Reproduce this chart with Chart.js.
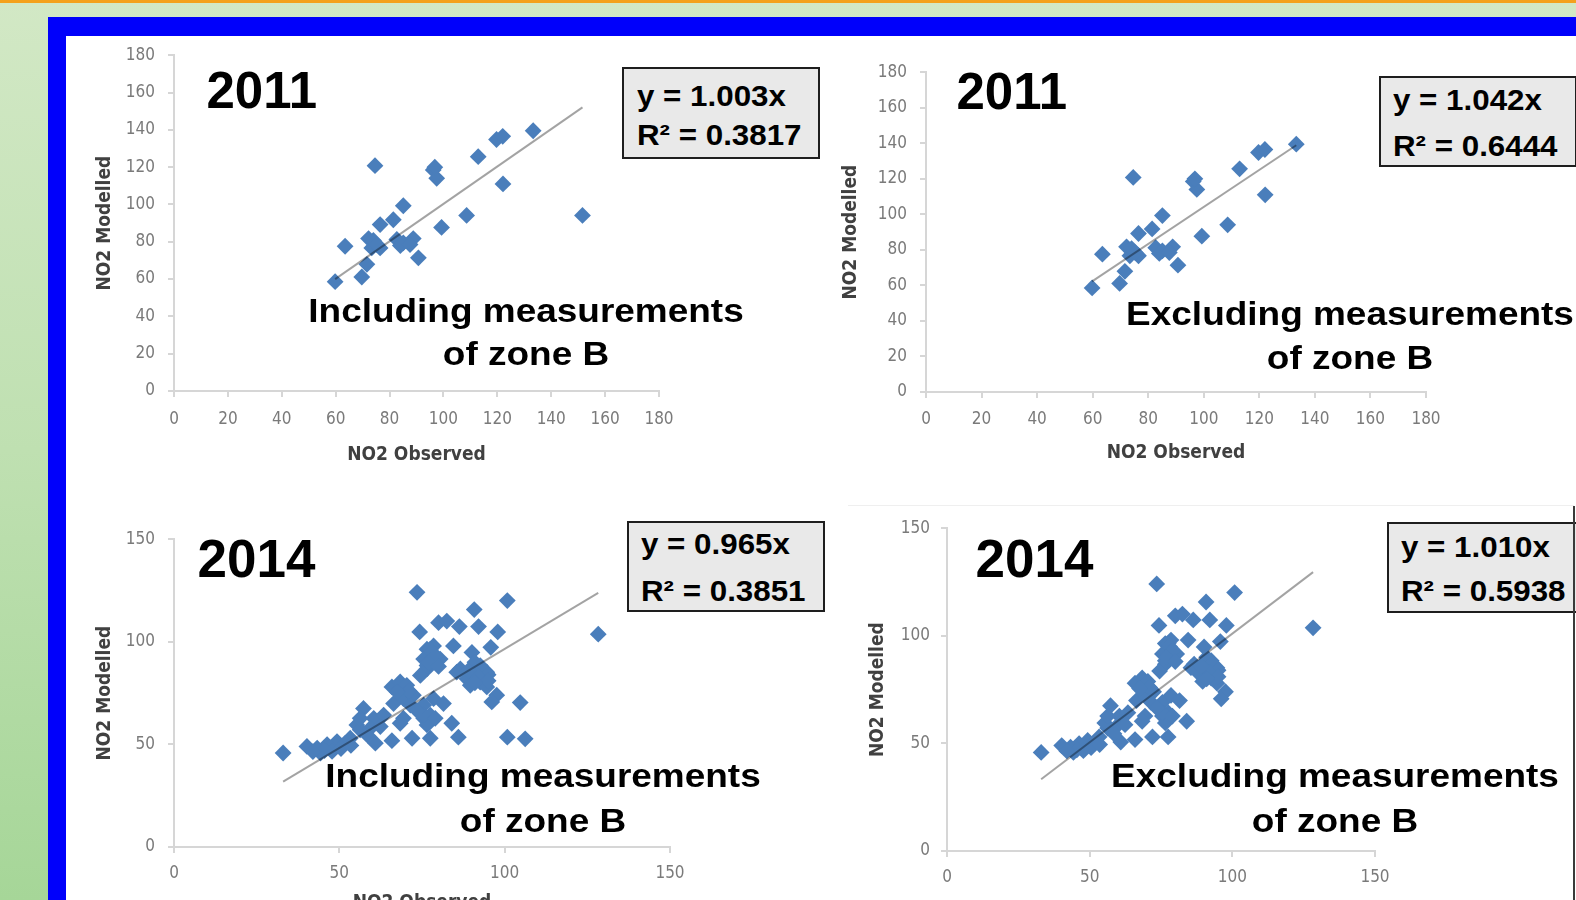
<!DOCTYPE html>
<html><head><meta charset="utf-8">
<script src="https://cdn.jsdelivr.net/npm/chart.js@4.4.1/dist/chart.umd.min.js"></script>
<style>
html,body{margin:0;padding:0;}
body{width:1576px;height:900px;overflow:hidden;position:relative;
  background:linear-gradient(to bottom,#d2e8c5 0%,#bfe0b1 50%,#a6d698 100%);
  font-family:'Liberation Sans',Arial,sans-serif;}
.abs{position:absolute;}
#orange{left:0;top:0;width:1576px;height:3px;background:#f4a11c;}
#blue{left:48px;top:17px;width:1528px;height:883px;background:#0000fb;}
#white{left:66px;top:36px;width:1510px;height:864px;background:#ffffff;}
canvas{position:absolute;}
.t{position:absolute;white-space:nowrap;font-weight:bold;color:#000;line-height:1;}
.box{position:absolute;background:#e9e9e9;border:2px solid #1e1e1e;box-sizing:border-box;}
</style></head><body>
<div id="orange" class="abs"></div>
<div id="blue" class="abs"></div>
<div id="white" class="abs"></div>
<div class="abs" style="left:848px;top:505px;width:726px;height:1px;background:#efefef"></div>
<script>
// ---------------- DATA ----------------
const ticks2011 = [0, 20, 40, 60, 80, 100, 120, 140, 160, 180];
const ticks2014 = [0, 50, 100, 150];

// 2011 sites outside zone B
const obs2011 = [59.8, 63.5, 74.6, 69.7, 71.6, 72.2, 73.4, 76.5, 76.5, 81.4, 85.1, 82.7, 85.1, 88.8, 90.7,
                 96.2, 97.5, 96.8, 99.3, 108.6, 112.9, 122.1, 119.7, 122.0, 133.3, 74.0, 84.0, 87.6, 75.3];
const mod2011 = [58.6, 77.6, 120.8, 61.1, 67.9, 81.7, 76.7, 76.7, 89.2, 91.8, 99.3, 81.2, 79.4, 81.7, 71.4,
                 118.5, 114.0, 120.0, 87.7, 94.1, 125.6, 111.0, 134.8, 136.5, 139.5, 80.7, 78.0, 78.5, 78.5];
// 2011 zone B sites
const obs2011B = [151.6];
const mod2011B = [94.1];

// 2014 sites outside zone B
const obs2014 = [33.0, 73.5, 74.3, 80.0, 76.5, 78.5, 75.5, 76.5, 74.5, 65.9, 68.4, 70.4, 57.3, 60.4, 63.4,
                 66.4, 69.4, 72.4, 71.5, 75.5, 77.5, 75.5, 69.4, 55.3, 56.3, 59.4, 53.3, 49.3, 46.3, 43.3,
                 40.2, 44.3, 47.8, 51.8, 60.9, 65.9, 72.0, 77.5, 76.5, 56.3, 62.4, 68.4,
                 100.8, 90.8, 82.5, 86.3, 92.1, 97.9, 128.3, 84.5, 95.8, 77.5, 80.5, 90.1, 76.5, 86.6,
                 92.6, 94.6, 88.6, 92.6, 90.6, 97.6, 96.1, 78.5, 81.5, 75.5, 79.0, 84.0,
                 85.5, 93.6, 89.6, 94.6, 45.5, 50.5, 53.5, 42.0, 58.5,
                 78.0, 79.0, 77.0, 80.0, 91.0, 93.0, 95.0, 92.0, 95.0, 89.0, 91.0, 73.5, 71.0, 67.5];
const mod2014 = [45.8, 124.1, 104.8, 109.3, 96.4, 98.0, 91.6, 86.8, 83.6, 78.0, 80.4, 78.8, 67.5, 62.7, 64.3,
                 69.9, 72.3, 74.0, 69.1, 69.1, 64.3, 62.7, 62.7, 59.5, 57.1, 57.9, 53.0, 51.4, 49.9, 48.2,
                 49.0, 45.8, 46.6, 50.6, 50.6, 51.8, 53.0, 53.0, 59.5, 62.7, 58.7, 60.3,
                 120.1, 115.7, 110.1, 107.4, 107.4, 104.8, 103.7, 98.0, 97.3, 96.4, 91.6, 94.8, 88.4, 86.8,
                 88.4, 85.2, 82.0, 80.4, 85.2, 74.0, 70.7, 72.3, 69.9, 64.3, 62.7, 60.3,
                 85.2, 83.6, 78.8, 78.0, 47.0, 48.0, 49.5, 46.5, 54.5,
                 95.0, 93.0, 90.0, 88.0, 90.0, 87.0, 84.0, 83.0, 81.0, 86.0, 80.0, 66.5, 76.0, 75.5];
// 2014 zone B sites
const obs2014B = [86.0, 100.8, 106.2, 104.7];
const mod2014B = [53.5, 53.5, 52.7, 70.4];

// regression results (y = a·x through origin)
const slopes = [1.003, 1.042, 0.965, 1.010];
const r2s    = [0.3817, 0.6444, 0.3851, 0.5938];
const years  = ['2011', '2011', '2014', '2014'];
const notes  = ['Including measurements', 'Excluding measurements', 'Including measurements', 'Excluding measurements'];
const note2  = 'of zone B';
const xTitle = 'NO2 Observed';
const yTitle = 'NO2 Modelled';

// ---------------- LAYOUT / STYLE ----------------
const W = 110, PT = 20, PR = 30, H = 90;
const layout = [
  {L:174, T:52, R:659, B:391, yTP:29.6, xTP:14.6, yPad:13, xPad:12.4, max:180, ticks:ticks2011,
   year:{x:206.5, b:108.3, s:51}, box:{x:622, y:67, w:198, h:92, tx:637, b1:106.7, b2:146},
   n:{x:525.5, b1:322.3, b2:365}},
  {L:926, T:69, R:1426, B:392, yTP:23.6, xTP:17.3, yPad:13, xPad:11.1, max:180, ticks:ticks2011,
   year:{x:956.5, b:109.5, s:51}, box:{x:1379, y:76, w:198, h:91, tx:1393, b1:111, b2:156.7},
   n:{x:1349.7, b1:325, b2:369}},
  {L:174, T:536, R:670, B:847, yTP:30, xTP:22.3, yPad:13, xPad:10.1, max:150, ticks:ticks2014,
   year:{x:197.5, b:576.7, s:53}, box:{x:627, y:521, w:198, h:91, tx:641, b1:555, b2:601.7},
   n:{x:542.9, b1:786.7, b2:831.7}},
  {L:947, T:527, R:1375, B:851, yTP:30, xTP:6, yPad:11, xPad:10.1, max:150, ticks:ticks2014,
   year:{x:975.5, b:576.7, s:53}, box:{x:1387, y:522, w:198, h:91, tx:1401, b1:557.3, b2:601.7},
   n:{x:1335, b1:786.7, b2:831.7}}
];

const POINT = '#4a7ebb';
const AXIS = '#d6d6d6';
const TICKFONT = {family:"'DejaVu Sans Condensed','Liberation Sans Narrow','Liberation Sans',sans-serif", size:17};
const TITLEFONT = {family:"'DejaVu Sans Condensed','Liberation Sans Narrow','Liberation Sans',sans-serif", size:19, weight:'bold'};

function pts(xs, ys){ return xs.map((v,i)=>({x:v, y:ys[i]})); }
function trend(xs, a){
  const lo = Math.min(...xs), hi = Math.max(...xs);
  return [{x:lo, y:a*lo}, {x:hi, y:a*hi}];
}

const sets = [
  {xs: obs2011.concat(obs2011B), ys: mod2011.concat(mod2011B)},
  {xs: obs2011, ys: mod2011},
  {xs: obs2014.concat(obs2014B), ys: mod2014.concat(mod2014B)},
  {xs: obs2014, ys: mod2014}
];

function addText(str, x, baseline, size, scale, align, z){
  const d = document.createElement('div');
  d.className = 't';
  d.textContent = str;
  d.style.fontSize = size + 'px';
  d.style.top = (baseline - 0.8465*size) + 'px';
  if (align === 'center'){
    d.style.left = (x - 350) + 'px';
    d.style.width = '700px';
    d.style.textAlign = 'center';
    d.style.transformOrigin = '50% 50%';
  } else {
    d.style.left = x + 'px';
    d.style.transformOrigin = '0 50%';
  }
  d.style.transform = 'scaleX(' + scale + ')';
  if (z) d.style.zIndex = z;
  document.body.appendChild(d);
}

layout.forEach((g, i) => {
  const cv = document.createElement('canvas');
  const cw = g.R - g.L + W + PR, ch = g.B - g.T + PT + H;
  cv.width = cw; cv.height = ch;
  cv.style.left = (g.L - W) + 'px';
  cv.style.top = (g.T - PT) + 'px';
  cv.style.width = cw + 'px'; cv.style.height = ch + 'px';
  document.body.appendChild(cv);
  const tickList = g.ticks;
  const axisCommon = (pad) => ({
    type:'linear', min:0, max:g.max,
    afterBuildTicks: (s) => { s.ticks = tickList.map(v => ({value:v})); },
    ticks:{color:'#7a7a7a', font:TICKFONT, padding:pad},
    grid:{display:true, drawOnChartArea:false, drawTicks:true, tickLength:6, color:AXIS, lineWidth:2},
    border:{display:true, color:AXIS, width:2}
  });
  const xAxis = axisCommon(g.xPad);
  xAxis.afterFit = (s) => { s.height = H; };
  xAxis.title = {display:true, text:xTitle, color:'#404040', font:TITLEFONT, padding:{top:0, bottom:g.xTP}};
  const yAxis = axisCommon(g.yPad);
  yAxis.afterFit = (s) => { s.width = W; };
  yAxis.title = {display:true, text:yTitle, color:'#404040', font:TITLEFONT, padding:{top:g.yTP, bottom:0}};
  const s = sets[i];
  new Chart(cv, {
    type:'scatter',
    data:{datasets:[
      {data: trend(s.xs, slopes[i]), showLine:true, borderColor:'rgba(0,0,0,0.36)', borderWidth:2,
       pointRadius:0, fill:false, order:0},
      {data: pts(s.xs, s.ys), pointStyle:'rectRot', pointRadius:8.4, backgroundColor:POINT,
       borderWidth:0, order:1}
    ]},
    options:{
      responsive:false, animation:false, devicePixelRatio:1,
      layout:{padding:{left:0, top:PT, right:PR, bottom:0}},
      plugins:{legend:{display:false}, tooltip:{enabled:false}},
      scales:{x:xAxis, y:yAxis}
    }
  });

  // texts
  addText(years[i], g.year.x, g.year.b, g.year.s, 1, 'left', 5);
  const bx = document.createElement('div');
  bx.className = 'box';
  bx.style.left = g.box.x + 'px'; bx.style.top = g.box.y + 'px';
  bx.style.width = g.box.w + 'px'; bx.style.height = g.box.h + 'px';
  bx.style.zIndex = 5;
  document.body.appendChild(bx);
  addText('y = ' + slopes[i].toFixed(3) + 'x', g.box.tx, g.box.b1, 29, 1.08, 'left', 6);
  addText('R\u00B2 = ' + r2s[i].toFixed(4), g.box.tx, g.box.b2, 29, 1.08, 'left', 6);
  addText(notes[i], g.n.x, g.n.b1, 33, 1.12, 'center', 5);
  addText(note2, g.n.x, g.n.b2, 33, 1.12, 'center', 5);
});

const vline = document.createElement('div');
vline.className = 'abs';
vline.style.cssText = 'left:1573px;top:506px;width:2px;height:394px;background:#3a3a3a;z-index:9';
document.body.appendChild(vline);
</script>
</body></html>
